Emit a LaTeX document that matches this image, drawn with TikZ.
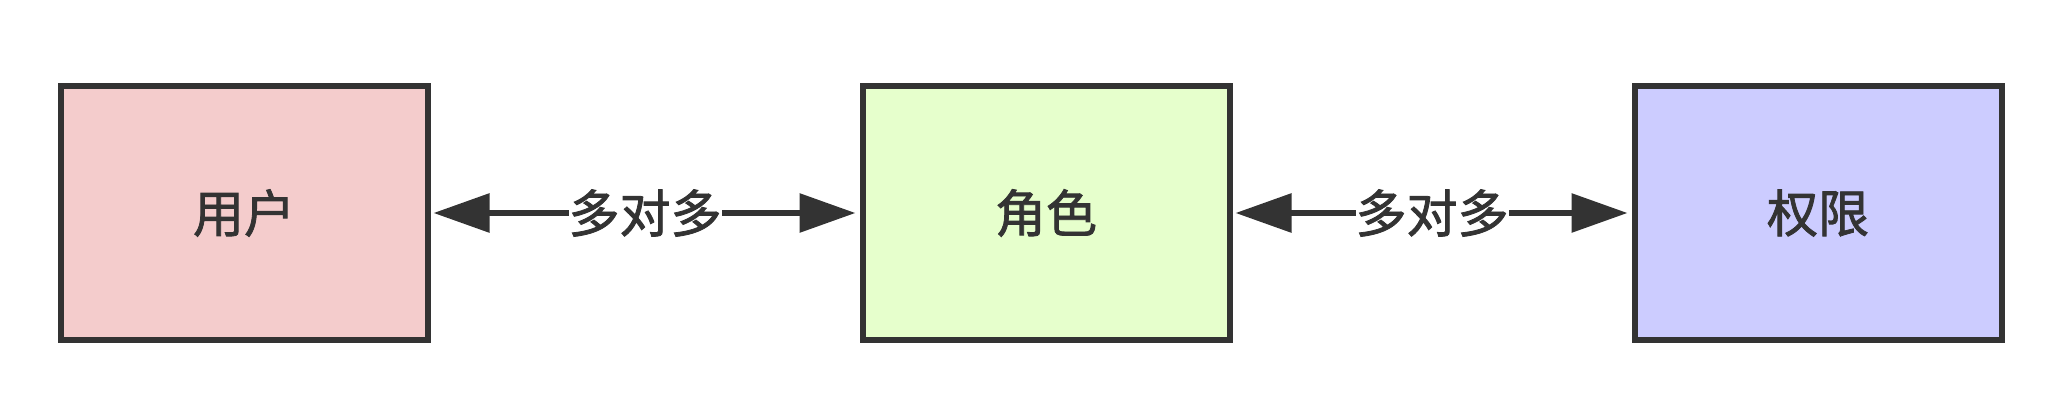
\documentclass[tikz,border=0pt]{standalone}
\usepackage{fontspec}
\setmainfont{Noto Sans CJK SC}[FakeBold=1.6]
\usetikzlibrary{arrows.meta,positioning}
\definecolor{userpink}{HTML}{F4CCCC}
\definecolor{rolegreen}{HTML}{E6FFCC}
\definecolor{permblue}{HTML}{CCCCFF}
\definecolor{inkgray}{HTML}{333333}

\begin{document}
\begin{tikzpicture}[x=1pt, y=1pt, >={Triangle[length=56pt,width=38pt]},
  entity/.style={draw=inkgray, line width=6pt, minimum width=367pt, minimum height=254pt, text=inkgray, font=\fontsize{51}{56}\selectfont},
  relation/.style={<->, line width=6pt, draw=inkgray, shorten <=3pt, shorten >=4pt},
  cardinality/.style={fill=white, inner sep=0pt, text=inkgray, font=\fontsize{51}{56}\selectfont}]
  \useasboundingbox (0,0) rectangle (2053,405);
  \node[entity, fill=userpink] (user) at (244,192) {用户};
  \node[entity, fill=rolegreen, right=429pt of user] (role) {角色};
  \node[entity, fill=permblue, right=399pt of role] (perm) {权限};

  \draw[relation] (user) -- node[cardinality] {多对多} (role);
  \draw[relation] (role) -- node[cardinality] {多对多} (perm);
\end{tikzpicture}
\end{document}
